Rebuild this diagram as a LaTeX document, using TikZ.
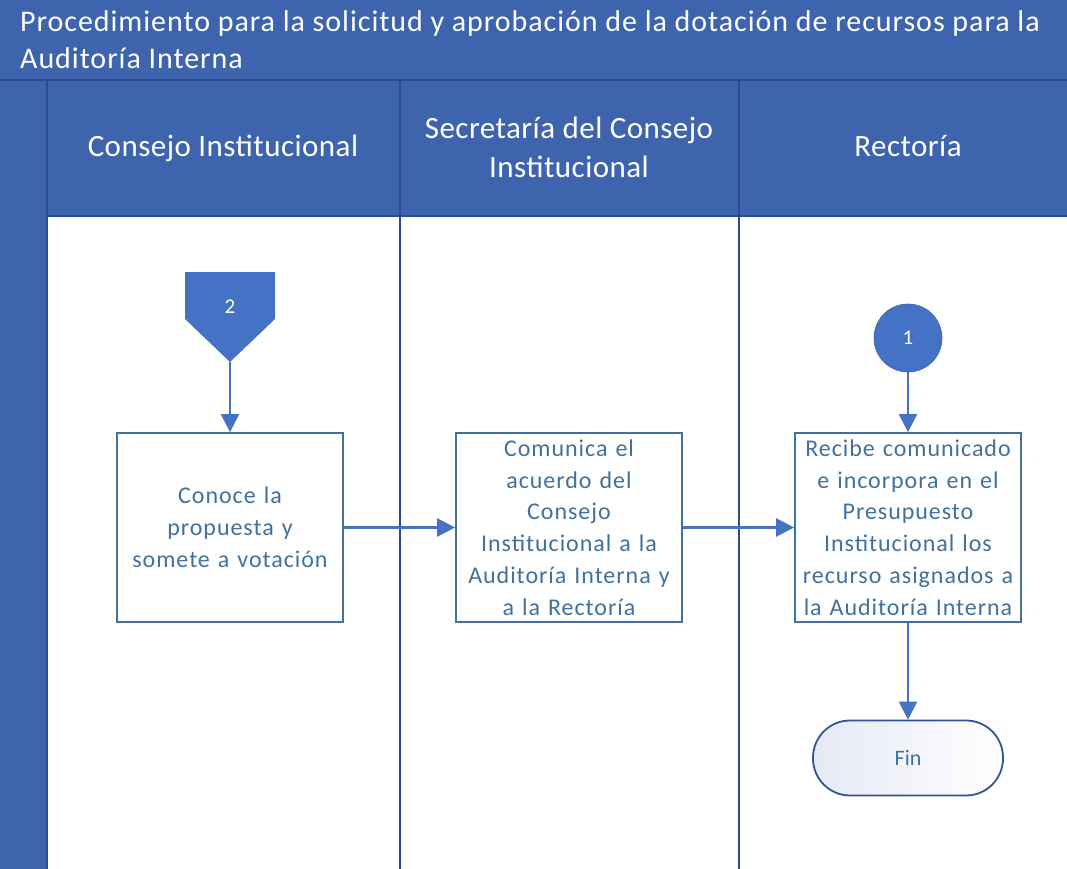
\documentclass[tikz,border=0pt]{standalone}
\usepackage{fontspec}
\setmainfont{Carlito}
\usetikzlibrary{arrows.meta}
\definecolor{band}{HTML}{3E64AD}
\definecolor{bandline}{HTML}{2B4C8C}
\definecolor{flow}{HTML}{4472C4}
\definecolor{boxline}{HTML}{41719C}
\definecolor{boxtext}{HTML}{41719C}
\definecolor{finline}{HTML}{2F5597}
\definecolor{finfill}{HTML}{E6E9F5}
\tikzset{
  laneline/.style={draw=bandline, line width=1.3pt},
  headtext/.style={text=white, font=\fontsize{31}{39}\selectfont\addfontfeature{LetterSpace=1.5}, align=center, inner sep=0pt},
  titletext/.style={text=white, font=\fontsize{30}{38}\selectfont\addfontfeature{LetterSpace=3.2}, anchor=base west, inner sep=0pt},
  stepbox/.style={draw=boxline, line width=1.8pt, fill=white, minimum width=226pt, minimum height=189pt,
    text width=224pt, align=center, inner sep=0pt, text=boxtext,
    font=\fontsize{24}{31.8}\selectfont\addfontfeature{LetterSpace=4}},
  flowarrow/.style={draw=flow, line width=2.5pt, -{Triangle[length=18pt,width=18pt]}},
  connector/.style={circle, fill=flow, draw=flow!85!black, line width=0.6pt, minimum size=68pt, inner sep=0pt,
    text=white, font=\fontsize{21}{24}\selectfont},
  terminal/.style={draw=finline, line width=1.8pt, rounded corners=37pt, minimum width=190pt, minimum height=75pt,
    left color=finfill, right color=white, text=boxtext, font=\fontsize{22}{26}\selectfont},
}
\begin{document}
\begin{tikzpicture}[x=1pt,y=-1pt]
\useasboundingbox (0,0) rectangle (1067,869);

% pool and lane headers
\fill[band] (0,0) rectangle (1067,216);
\fill[band] (0,216) rectangle (47,869);
\draw[laneline] (0,80) -- (1067,80);
\draw[laneline] (47,80) -- (47,869);
\draw[laneline] (400,80) -- (400,869);
\draw[laneline] (739,80) -- (739,869);
\draw[laneline] (47,216) -- (1067,216);

\node[titletext] (t1) at (20,32) {Procedimiento para la solicitud y aprobación de la dotación de recursos para la};
\node[titletext] (t2) at (20,69) {Auditoría Interna};

\node[headtext, anchor=base] (h1) at (223,157) {Consejo Institucional};
\node[headtext] (h2) at (569,147) {Secretaría del Consejo\\Institucional};
\node[headtext, anchor=base] (h3) at (908,157) {Rectoría};

% off-page reference 2
\fill[flow] (185,272) -- (275,272) -- (275,319) -- (230,362) -- (185,319) -- cycle;
\node[text=white, font=\fontsize{21}{24}\selectfont] (r2) at (230,307) {2};
\coordinate (r2tip) at (230,362);

% on-page connector 1
\node[connector] (c1) at (908,338) {1};

% activities
\node[stepbox] (b1) at (230,527.5) {Conoce la\\propuesta y\\somete a votación};
\node[stepbox] (b2) at (569,527.5) {Comunica el\\acuerdo del\\Consejo\\Institucional a la\\Auditoría Interna y\\a la Rectoría};
\node[stepbox] (b3) at (908,527.5) {Recibe comunicado\\e incorpora en el\\Presupuesto\\Institucional los\\recurso asignados a\\la Auditoría Interna};

\node[terminal] (fin) at (908,758) {Fin};

% flow
\draw[flowarrow] (r2tip) -- (b1.north);
\draw[flowarrow] (b1.east) -- (b2.west);
\draw[flowarrow] (b2.east) -- (b3.west);
\draw[flowarrow] (c1.south) -- (b3.north);
\draw[flowarrow] (b3.south) -- (fin.north);
\end{tikzpicture}
\end{document}
